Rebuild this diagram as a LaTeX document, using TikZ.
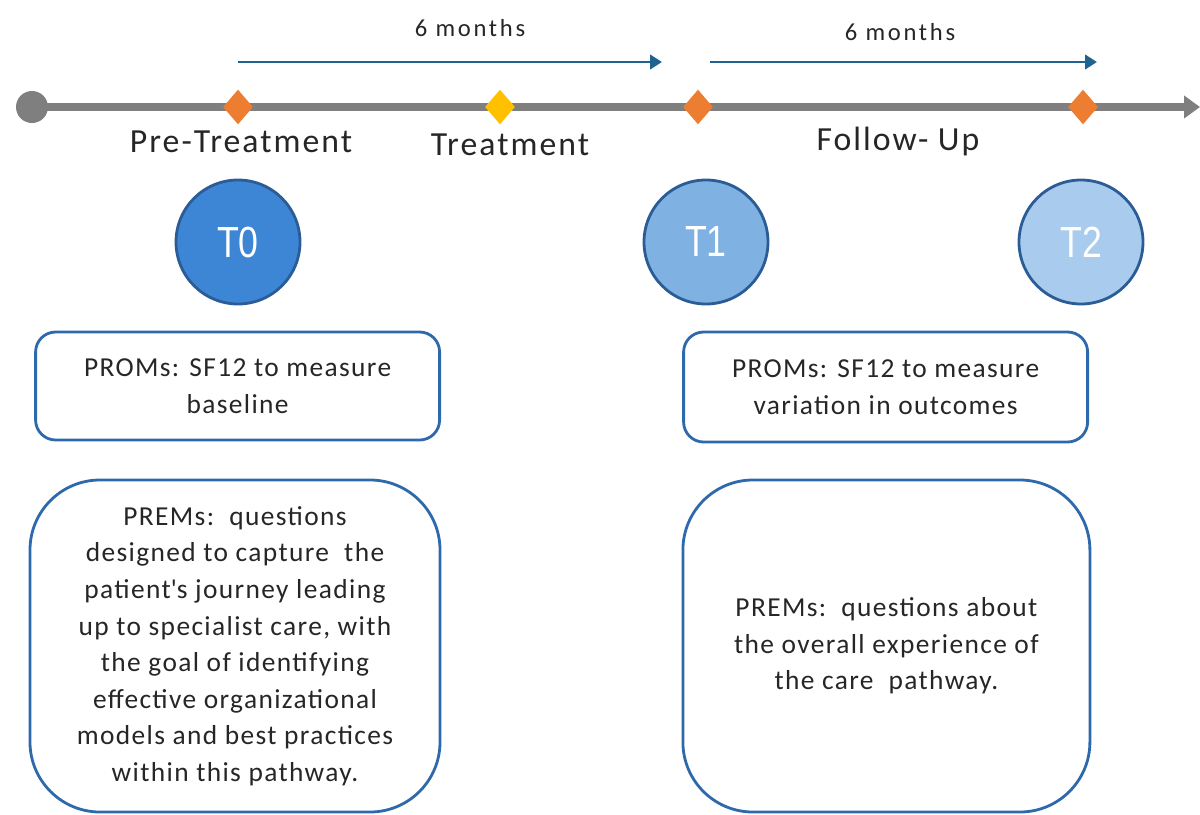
\documentclass[tikz,border=0pt]{standalone}
\usepackage{fontspec}
\setmainfont{Carlito}
\newfontfamily\visitfont[FakeStretch=0.82]{Liberation Sans}
\newfontfamily\boxfont[LetterSpace=5]{Carlito}
\newfontfamily\phasefont[LetterSpace=6]{Carlito}
\newfontfamily\durationfont[LetterSpace=11]{Carlito}
\usetikzlibrary{shapes.geometric,arrows.meta}

\definecolor{axisgray}{HTML}{7F7F7F}
\definecolor{mileorange}{HTML}{ED7D31}
\definecolor{mileyellow}{HTML}{FFC000}
\definecolor{spanblue}{HTML}{1F6391}
\definecolor{boxblue}{HTML}{2E69AC}
\definecolor{ringblue}{HTML}{2C5C96}
\definecolor{tzero}{HTML}{3D86D6}
\definecolor{tone}{HTML}{7FB1E3}
\definecolor{ttwo}{HTML}{A9CCEE}
\definecolor{txt}{HTML}{262626}

\tikzset{
  axis/.style={axisgray, line width=5pt, -{Triangle[length=0.4cm, width=0.55cm]}},
  startdot/.style={circle, fill=axisgray, inner sep=0pt, minimum size=0.8cm},
  mile/.style={diamond, fill=#1, inner sep=0pt, minimum width=0.75cm, minimum height=0.87cm},
  span/.style={spanblue, line width=2.1pt, -{Triangle[length=0.3cm, width=0.36cm]}},
  duration/.style={font=\durationfont\fontsize{17.5}{20}\selectfont, text=txt},
  phase/.style={font=\phasefont\fontsize{24}{28}\selectfont, text=txt},
  visit/.style={circle, fill=#1, draw=ringblue, line width=2pt, minimum size=3.1cm,
    text=white, font=\visitfont\fontsize{31}{31}\selectfont},
  measure/.style={draw=boxblue, line width=2pt, align=center, text=txt,
    font=\boxfont\fontsize{19.5}{26}\selectfont, minimum width=10.1cm},
  prom/.style={measure, rounded corners=0.5cm, minimum height=2.7cm},
  prem/.style={measure, rounded corners=1.75cm, minimum height=8.3cm}
}

\begin{document}
\begin{tikzpicture}

\useasboundingbox (0,0) rectangle (30,-20.35);

% timeline
\coordinate (origin) at (0.8,-2.675);
\coordinate (axisend) at (30,-2.675);
\draw[axis] (origin) -- (axisend);
\node(start) at (origin) [startdot] {};

\node(d0) at (5.95,-2.675) [mile=mileorange] {};
\node(d1) at (12.5,-2.675) [mile=mileyellow] {};
\node(d2) at (17.45,-2.675) [mile=mileorange] {};
\node(d3) at (27.075,-2.675) [mile=mileorange] {};

% six month spans
\coordinate (s0) at (5.95,-1.55);
\coordinate (e0) at (16.55,-1.55);
\coordinate (s1) at (17.75,-1.55);
\coordinate (e1) at (27.425,-1.55);
\draw[span] (s0) -- (e0);
\draw[span] (s1) -- (e1);

\node(m0) at (11.75,-0.7) [duration] {6 months};
\node(m1) at (22.5,-0.8) [duration] {6 months};

\node(pre) at (6.025,-3.55) [phase] {Pre-Treatment};
\node(treat) at (12.75,-3.625) [phase] {Treatment};
\node(follow) at (22.45,-3.55) [phase] {Follow- Up};

% visits
\node(t0) at (5.95,-6.05) [visit=tzero] {T0};
\node(t1) at (17.65,-6.05) [visit=tone] {T1};
\node(t2) at (27.025,-6.05) [visit=ttwo] {T2};

% measures
\node(prom0) at (5.94,-9.65) [prom] {PROMs: SF12 to measure\\baseline};
\node(prem0) at (5.875,-16.15) [prem, minimum width=10.25cm] {PREMs:\ \ questions\\designed to capture\ \ the\\patient\textquotesingle s journey leading\\up to specialist care, with\\the goal of identifying\\effective organizational\\models and best practices\\within this pathway.};

\node(prom1) at (22.14,-9.675) [prom, minimum height=2.75cm] {PROMs: SF12 to measure\\variation in outcomes};
\node(prem1) at (22.16,-16.15) [prem, minimum width=10.175cm] {PREMs:\ \ questions about\\the overall experience of\\the care\ \ pathway.};

\end{tikzpicture}
\end{document}
